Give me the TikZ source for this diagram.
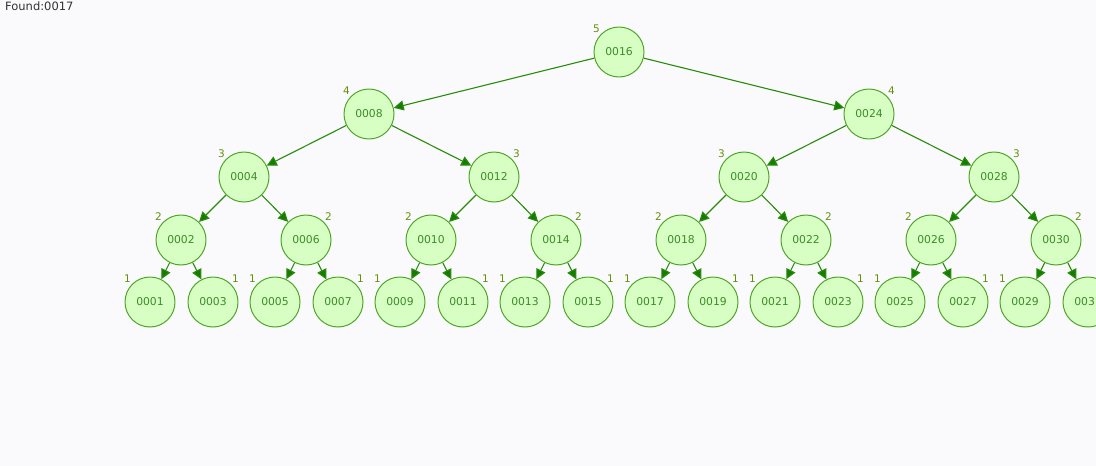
\documentclass[tikz,border=0pt]{standalone}
\usepackage{fontspec}
\setmainfont{DejaVu Sans}
\usepackage{xcolor}
\usepackage{tikz}
\usetikzlibrary{arrows.meta,positioning}
\definecolor{bggrey}{RGB}{250,250,252}
\definecolor{nodefill}{RGB}{215,255,195}
\definecolor{nodeline}{RGB}{80,165,40}
\definecolor{nodetext}{RGB}{60,140,40}
\definecolor{edgegreen}{RGB}{40,140,10}
\definecolor{tipgreen}{RGB}{20,125,0}
\definecolor{heightgreen}{RGB}{100,145,10}
\definecolor{foundgrey}{RGB}{50,50,50}

\tikzset{
  avl/.style={circle,draw=nodeline,line width=1pt,fill=nodefill,
    minimum size=50pt,inner sep=0pt,text=nodetext,font=\fontsize{10.8}{12}\selectfont},
  hl/.style={text=heightgreen,inner sep=1pt,font=\fontsize{10.5}{12}\selectfont},
  link/.style={edgegreen,line width=1.1pt,
    -{Triangle[length=10pt,width=10pt,fill=tipgreen]}}
}

\begin{document}
\begin{tikzpicture}[x=1pt,y=-1pt,line join=round]
  % --- canvas, 1096 x 466 ---
  \fill[bggrey] (0,0) rectangle (1096,466);
  \useasboundingbox (0,0) rectangle (1096,466);
  \clip (0,0) rectangle (1096,466);
  \node[anchor=north west,inner sep=0pt,text=foundgrey,
        font=\fontsize{11.5}{13}\selectfont] (found) at (5,2) {Found:0017};
  % --- level 0 / 1 ---
  \node[avl,label={[hl]135:5}] (n16) at (619,52) {0016};
  \node[avl,label={[hl]135:4}] (n08) at (369,114) {0008};
  \node[avl,label={[hl]45:4}]  (n24) at (869,114) {0024};
  % --- level 2 ---
  \node[avl,label={[hl]135:3}] (n04) at (244,177) {0004};
  \node[avl,label={[hl]45:3}]  (n12) at (494,177) {0012};
  \node[avl,label={[hl]135:3}] (n20) at (744,177) {0020};
  \node[avl,label={[hl]45:3}]  (n28) at (994,177) {0028};
  % --- level 3 ---
  \node[avl,label={[hl]135:2}] (n02) at (181,240) {0002};
  \node[avl,label={[hl]45:2}]  (n06) at (306,240) {0006};
  \node[avl,label={[hl]135:2}] (n10) at (431,240) {0010};
  \node[avl,label={[hl]45:2}]  (n14) at (556,240) {0014};
  \node[avl,label={[hl]135:2}] (n18) at (681,240) {0018};
  \node[avl,label={[hl]45:2}]  (n22) at (806,240) {0022};
  \node[avl,label={[hl]135:2}] (n26) at (931,240) {0026};
  \node[avl,label={[hl]45:2}]  (n30) at (1056,240) {0030};
  % --- leaves (0031 runs off the right edge) ---
  \node[avl,label={[hl]135:1}] (n01) at (150,302) {0001};
  \node[avl,label={[hl]45:1}]  (n03) at (213,302) {0003};
  \node[avl,label={[hl]135:1}] (n05) at (275,302) {0005};
  \node[avl,label={[hl]45:1}]  (n07) at (338,302) {0007};
  \node[avl,label={[hl]135:1}] (n09) at (400,302) {0009};
  \node[avl,label={[hl]45:1}]  (n11) at (463,302) {0011};
  \node[avl,label={[hl]135:1}] (n13) at (525,302) {0013};
  \node[avl,label={[hl]45:1}]  (n15) at (588,302) {0015};
  \node[avl,label={[hl]135:1}] (n17) at (650,302) {0017};
  \node[avl,label={[hl]45:1}]  (n19) at (713,302) {0019};
  \node[avl,label={[hl]135:1}] (n21) at (775,302) {0021};
  \node[avl,label={[hl]45:1}]  (n23) at (838,302) {0023};
  \node[avl,label={[hl]135:1}] (n25) at (900,302) {0025};
  \node[avl,label={[hl]45:1}]  (n27) at (963,302) {0027};
  \node[avl,label={[hl]135:1}] (n29) at (1025,302) {0029};
  \node[avl,label={[hl]45:1}]  (n31) at (1088,302) {0031};
  % --- links ---
  \draw[link] (n16) -- (n08);
  \draw[link] (n16) -- (n24);
  \draw[link] (n08) -- (n04);
  \draw[link] (n08) -- (n12);
  \draw[link] (n24) -- (n20);
  \draw[link] (n24) -- (n28);
  \draw[link] (n04) -- (n02);
  \draw[link] (n04) -- (n06);
  \draw[link] (n12) -- (n10);
  \draw[link] (n12) -- (n14);
  \draw[link] (n20) -- (n18);
  \draw[link] (n20) -- (n22);
  \draw[link] (n28) -- (n26);
  \draw[link] (n28) -- (n30);
  \draw[link] (n02) -- (n01);
  \draw[link] (n02) -- (n03);
  \draw[link] (n06) -- (n05);
  \draw[link] (n06) -- (n07);
  \draw[link] (n10) -- (n09);
  \draw[link] (n10) -- (n11);
  \draw[link] (n14) -- (n13);
  \draw[link] (n14) -- (n15);
  \draw[link] (n18) -- (n17);
  \draw[link] (n18) -- (n19);
  \draw[link] (n22) -- (n21);
  \draw[link] (n22) -- (n23);
  \draw[link] (n26) -- (n25);
  \draw[link] (n26) -- (n27);
  \draw[link] (n30) -- (n29);
  \draw[link] (n30) -- (n31);
\end{tikzpicture}
\end{document}
